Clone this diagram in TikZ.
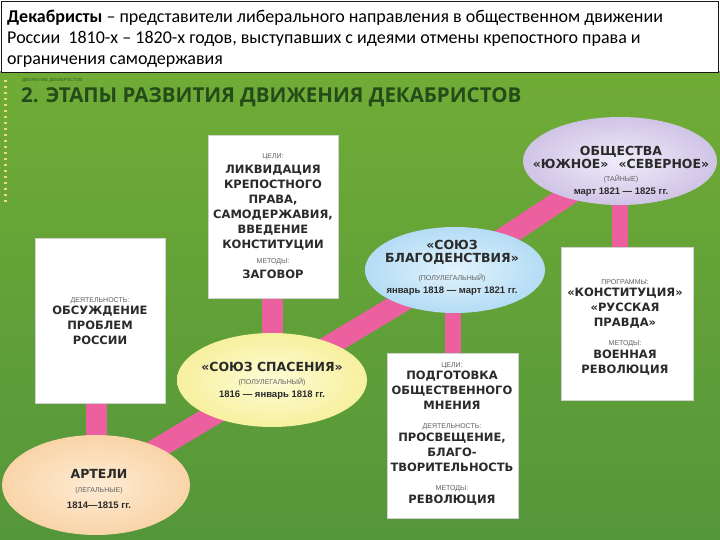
\documentclass[tikz,border=0pt]{standalone}
\usepackage{fontspec}
\setmainfont{Liberation Sans}
\newfontfamily\calib{Carlito}
\newfontfamily\titlef{Open Sans}
\newfontfamily\dvs{DejaVu Sans}
\usetikzlibrary{shapes.geometric,backgrounds}
\definecolor{bgtop}{RGB}{112,172,54}
\definecolor{bgbot}{RGB}{84,150,58}
\definecolor{pinkband}{RGB}{236,96,160}
\definecolor{txtgray}{RGB}{42,42,42}
\definecolor{lblgray}{RGB}{95,95,95}
\definecolor{titlegreen}{RGB}{36,76,26}
\definecolor{peach}{RGB}{249,212,168}
\definecolor{peachin}{RGB}{254,236,212}
\definecolor{yel}{RGB}{247,240,158}
\definecolor{yelin}{RGB}{253,252,215}
\definecolor{blu}{RGB}{180,220,245}
\definecolor{bluin}{RGB}{226,243,252}
\definecolor{lav}{RGB}{208,196,230}
\definecolor{lavin}{RGB}{240,236,250}
\definecolor{dotyel}{RGB}{232,222,120}
\newcommand\bigf{\dvs\fontsize{11.5}{15}\selectfont\bfseries}
\newcommand\lblf{\rmfamily\fontsize{7}{8}\selectfont\mdseries\color{lblgray}}
\newcommand\ovf{\dvs\fontsize{12.5}{13}\selectfont\bfseries}
\newcommand\datef{\rmfamily\fontsize{9.5}{11}\selectfont\bfseries}
\begin{document}
\begin{tikzpicture}[x=1pt,y=-1pt,
  box/.style={rectangle,fill=white,draw=black!18,line width=0.5pt,inner sep=0pt},
  oval/.style={ellipse,inner sep=0pt,draw=none},
  conn/.style={line width=21pt,draw=pinkband},
  btxt/.style={align=center,text=txtgray,font=\bigf,inner sep=0pt},
  otxt/.style={align=center,text=txtgray,font=\ovf,inner sep=0pt}]
\useasboundingbox (0,0) rectangle (720,540);
\begin{pgfonlayer}{background}
  \shade[top color=bgtop,bottom color=bgbot] (0,72) rectangle (720,540);
\end{pgfonlayer}
% header
\node[box,draw=black!90,line width=1.4pt,minimum width=717pt,minimum height=71pt,anchor=north west] (hdr) at (0.7,0.7) {};
\node[anchor=north west,align=left,inner sep=0pt,font=\calib\fontsize{18}{21}\selectfont] (hdrtxt) at (7,10)
 {{\bfseries Декабристы} – представители либерального направления в общественном движении\\
  России~ 1810-х – 1820-х годов, выступавших с идеями отмены крепостного права и\\
  ограничения самодержавия};
% title
\node[anchor=west,inner sep=0pt,text=titlegreen!80!bgtop,font=\fontsize{4.5}{5}\selectfont] (smalltitle) at (22,80) {ДВИЖЕНИЕ ДЕКАБРИСТОВ};
\node[anchor=west,inner sep=0pt,text=titlegreen,font=\titlef\bfseries\fontsize{20.5}{24}\selectfont] (title) at (21,97) {2. ЭТАПЫ РАЗВИТИЯ ДВИЖЕНИЯ ДЕКАБРИСТОВ};
\foreach \yy in {80,86,...,200} \fill[dotyel] (3.5,\yy) rectangle (6.5,\yy+2.5);
% boxes
\node[box,minimum width=130pt,minimum height=163pt] (b1) at (273,216.5) {};
\node[box,minimum width=130pt,minimum height=165pt] (b2) at (100,320.5) {};
\node[box,minimum width=132pt,minimum height=153pt] (b3) at (627,323.5) {};
\node[box,minimum width=131pt,minimum height=165pt] (b4) at (452.5,435.5) {};
% ovals
\node[oval,minimum width=188pt,minimum height=100pt,inner color=peachin,outer color=peach] (artel) at (96,485) {};
\node[oval,minimum width=190pt,minimum height=94pt,inner color=yelin,outer color=yel] (ss) at (272,380) {};
\node[oval,minimum width=180pt,minimum height=86pt,inner color=bluin,outer color=blu] (sb) at (455,270) {};
\node[oval,minimum width=194pt,minimum height=88pt,inner color=lavin,outer color=lav] (ob) at (620,161) {};
% connectors
\begin{pgfonlayer}{background}
  \draw[conn] (artel.center) -- (ss.center);
  \draw[conn] (ss.center) -- (sb.center);
  \draw[conn] (sb.center) -- (ob.center);
  \draw[conn] (artel.center |- b2.center) -- (artel.center);
  \draw[conn] (ss.center |- b1.center) -- (ss.center);
  \draw[conn,line width=16pt] (b4.center) -- (b4.center |- sb.center);
  \draw[conn,line width=16pt] (ob.center) -- (ob.center |- b3.center);
\end{pgfonlayer}
% box texts
\node[btxt] (b1t) at (273,216.5) {{\lblf ЦЕЛИ:}\\ЛИКВИДАЦИЯ\\КРЕПОСТНОГО\\ПРАВА,\\САМОДЕРЖАВИЯ,\\ВВЕДЕНИЕ\\КОНСТИТУЦИИ\\{\lblf МЕТОДЫ:}\\ЗАГОВОР};
\node[btxt] (b2t) at (100,321) {{\lblf ДЕЯТЕЛЬНОСТЬ:}\\[-3pt]ОБСУЖДЕНИЕ\\ПРОБЛЕМ\\РОССИИ};
\node[btxt] (b3t) at (625,327) {{\lblf ПРОГРАММЫ:}\\[-3pt]«КОНСТИТУЦИЯ»\\«РУССКАЯ\\ПРАВДА»\\[4pt]{\lblf МЕТОДЫ:}\\[-2pt]ВОЕННАЯ\\РЕВОЛЮЦИЯ};
\node[btxt] (b4t) at (452,434) {{\lblf ЦЕЛИ:}\\[-3pt]ПОДГОТОВКА\\ОБЩЕСТВЕННОГО\\МНЕНИЯ\\[4pt]{\lblf ДЕЯТЕЛЬНОСТЬ:}\\[-2pt]ПРОСВЕЩЕНИЕ,\\БЛАГО-\\ТВОРИТЕЛЬНОСТЬ\\[4pt]{\lblf МЕТОДЫ:}\\[-2pt]РЕВОЛЮЦИЯ};
% oval texts
\node[otxt] (artelt) at (99,489) {АРТЕЛИ\\[1pt]{\lblf (ЛЕГАЛЬНЫЕ)}\\[3pt]{\datef 1814—1815 гг.}};
\node[otxt] (sst) at (272,381) {«СОЮЗ СПАСЕНИЯ»\\{\lblf (ПОЛУЛЕГАЛЬНЫЙ)}\\{\datef 1816 — январь 1818 гг.}};
\node[otxt] (sbt) at (452,268) {«СОЮЗ\\БЛАГОДЕНСТВИЯ»\\[5pt]{\lblf (ПОЛУЛЕГАЛЬНЫЙ)}\\{\datef январь 1818 — март 1821 гг.}};
\node[otxt] (obt) at (621,171) {ОБЩЕСТВА\\«ЮЖНОЕ»\hspace{10pt}«СЕВЕРНОЕ»\\{\lblf (ТАЙНЫЕ)}\\{\datef март 1821 — 1825 гг.}};
\end{tikzpicture}
\end{document}
